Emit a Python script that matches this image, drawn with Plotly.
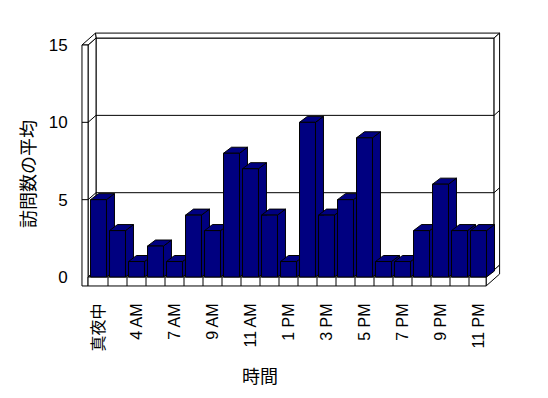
import plotly.graph_objects as go

# ---- data ----
categories = ["真夜中", "2 AM", "4 AM", "5 AM", "7 AM", "8 AM", "9 AM", "10 AM", "11 AM",
              "12 PM", "1 PM", "2 PM", "3 PM", "4 PM", "5 PM", "6 PM", "7 PM", "8 PM",
              "9 PM", "10 PM", "11 PM"]
visits_avg = [5, 3, 1, 2, 1, 4, 3, 8, 7, 4, 1, 10, 4, 5, 9, 1, 1, 3, 6, 3, 3]
y_ticks = [0, 5, 10, 15]
y_title = "訪問数の平均"
x_title = "時間"

# ---- 3D-look geometry (in axis units) ----
BAR_W = 0.84
BAR_DX, BAR_DY = 0.42, 0.39
DX, DY = 0.42, 0.45          # depth of plot box
TX, TY = 0.29, 0.32          # back wall thickness
W_OUT, W_IN = -0.87, -0.55   # left wall
X_END = 20.4
FB = -0.58                   # floor bottom
YMAX = 15
NAVY = "#000080"

idx = list(range(len(categories)))

fig = go.Figure()
fig.add_trace(go.Bar(x=idx, y=visits_avg, width=BAR_W,
                     marker=dict(color=NAVY, line=dict(color="black", width=1)),
                     hoverinfo="x+y"))

shapes = []


def poly(pts, fill="white"):
    p = "M " + " L ".join(f"{x},{y}" for x, y in pts) + " Z"
    shapes.append(dict(type="path", path=p, xref="x", yref="y", layer="below",
                       fillcolor=fill, line=dict(color="black", width=1)))


def seg(x0, y0, x1, y1):
    shapes.append(dict(type="line", x0=x0, y0=y0, x1=x1, y1=y1, xref="x", yref="y",
                       layer="below", line=dict(color="black", width=1)))


# back wall front face
poly([(W_IN + DX, DY), (X_END + DX, DY), (X_END + DX, YMAX + DY), (W_IN + DX, YMAX + DY)])
# back wall top face
poly([(W_IN + DX, YMAX + DY), (X_END + DX, YMAX + DY),
      (X_END + DX + TX, YMAX + DY + TY), (W_OUT + DX + TX, YMAX + DY + TY)])
# back wall right face
poly([(X_END + DX, DY), (X_END + DX, YMAX + DY),
      (X_END + DX + TX, YMAX + DY + TY), (X_END + DX + TX, DY + TY)])
# left wall inner face
poly([(W_IN, 0), (W_IN, YMAX), (W_IN + DX, YMAX + DY), (W_IN + DX, DY)])
# left wall top face
poly([(W_OUT, YMAX), (W_IN, YMAX), (W_IN + DX, YMAX + DY),
      (W_OUT + DX + TX, YMAX + DY + TY)])
# left wall front face
poly([(W_OUT, FB), (W_IN, FB), (W_IN, YMAX), (W_OUT, YMAX)])
# floor top face
poly([(W_IN, 0), (X_END, 0), (X_END + DX, DY), (W_IN + DX, DY)])
# floor right face
poly([(X_END, FB), (X_END + DX + TX, FB + DY + TY), (X_END + DX + TX, DY + TY), (X_END, 0)])
# floor front face
poly([(W_IN, FB), (X_END, FB), (X_END, 0), (W_IN, 0)])
for i in idx[:-1]:
    seg(i + 0.5, FB, i + 0.5, 0)

# gridlines
for v in y_ticks[1:-1]:
    seg(W_OUT, v, W_IN, v)
    seg(W_IN, v, W_IN + DX, v + DY)
    seg(W_IN + DX, v + DY, X_END + DX, v + DY)
    seg(X_END + DX, v + DY, X_END + DX + TX, v + DY + TY)

# bar side and top faces
h = BAR_W / 2
for i, v in zip(idx, visits_avg):
    poly([(i + h, 0), (i + h + BAR_DX, BAR_DY), (i + h + BAR_DX, v + BAR_DY), (i + h, v)], NAVY)
    poly([(i - h, v), (i + h, v), (i + h + BAR_DX, v + BAR_DY), (i - h + BAR_DX, v + BAR_DY)], NAVY)

FONT = "Liberation Sans, Noto Sans CJK JP, sans-serif"

fig.update_layout(
    width=548, height=398,
    margin=dict(l=76, r=42, t=28, b=106),
    paper_bgcolor="white", plot_bgcolor="white",
    showlegend=False,
    shapes=shapes,
    font=dict(family=FONT, color="black"),
    xaxis=dict(range=[-1.184, 21.447], showgrid=False, zeroline=False, showline=False,
               tickmode="array", tickvals=idx[::2], ticktext=categories[::2],
               tickangle=-90, ticks="outside", ticklen=4, tickcolor="rgba(0,0,0,0)",
               tickfont=dict(size=16, family=FONT, color="black")),
    yaxis=dict(range=[-0.970, 16.099], showgrid=False, zeroline=False, showline=False,
               tickmode="array", tickvals=y_ticks,
               ticks="outside", ticklen=4, tickcolor="rgba(0,0,0,0)",
               tickfont=dict(size=17, family=FONT, color="black")),
    annotations=[
        dict(text=y_title, xref="paper", yref="paper", x=-0.109, y=0.447,
             textangle=-90, showarrow=False, font=dict(size=18, family=FONT, color="black"),
             xanchor="center", yanchor="middle"),
        dict(text=x_title, xref="paper", yref="paper", x=0.428, y=-0.322,
             showarrow=False, font=dict(size=18, family=FONT, color="black"),
             xanchor="center", yanchor="middle"),
    ],
)

fig.write_html("out.html")
